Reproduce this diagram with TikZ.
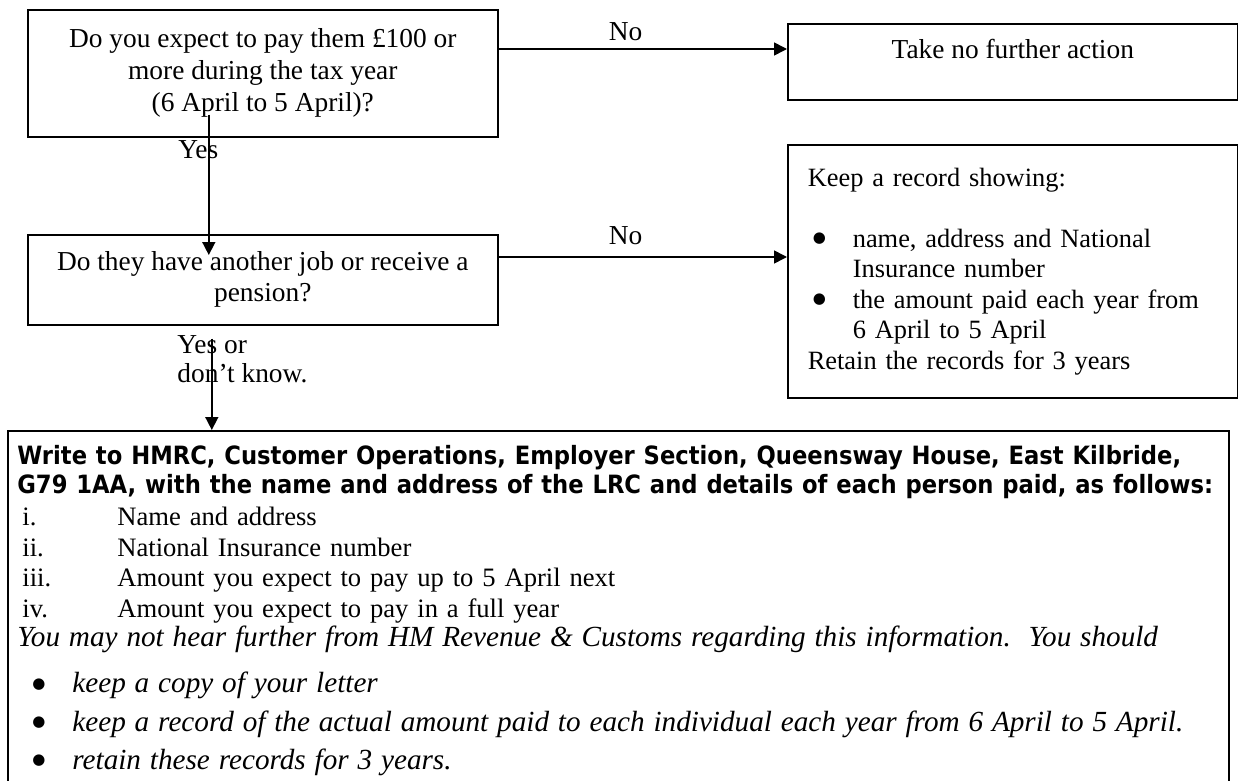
\documentclass[tikz,border=0pt]{standalone}
\usepackage{fontspec}
\setmainfont{Liberation Serif}
\newfontfamily\hdfont{DejaVuSansCondensed-Bold.ttf}
\newfontfamily\symfont{DejaVu Sans}
\usetikzlibrary{positioning,calc,arrows.meta}
\newcommand{\hd}{\hdfont\fontsize{12.6}{15.2}\selectfont}
\newcommand{\bigdot}{\raisebox{2.4pt}{\symfont\fontsize{7.5}{7.5}\selectfont ●}}
\newcommand{\bul}[1]{\hspace*{2.5pt}\makebox[20pt][l]{\bigdot}#1}
\newcommand{\ibul}[1]{\hspace*{7.5pt}\makebox[20pt][l]{\bigdot}{\fontsize{14.6}{15.2}\selectfont\itshape #1}}
\newcommand{\num}[1]{\hspace*{2.5pt}\makebox[47.5pt][l]{#1}}
\tikzstyle{block} = [draw, rectangle, line width=0.8pt, anchor=north west, inner sep=0pt]
\tikzstyle{lbl} = [inner sep=0pt]
\tikzstyle{conn} = [-{Triangle[length=6.5pt,width=6.5pt]}, line width=0.8pt]
\begin{document}
\begin{tikzpicture}[x=0.5pt, y=-0.5pt, font=\fontsize{13.7}{15.5}\selectfont]
	\useasboundingbox (0,0) rectangle (1238,781);
	% questions
	\node (q1) [block, minimum width=235pt, minimum height=63.5pt, align=center, font=\fontsize{13.7}{16}\selectfont] at (27,9)
		{Do you expect to pay them £100 or\\ more during the tax year\\ (6 April to 5 April)?};
	\node (q2) [block, minimum width=235pt, minimum height=45pt, align=center] at (27,234)
		{Do they have another job or receive a\\ pension?};
	% answers
	\node (take) [block, minimum width=225pt, text height=17.5pt, text depth=20.5pt, align=center] at (787,23)
		{Take no further action};
	\node (keep) [block, minimum width=225pt, minimum height=126.5pt, text width=205pt, align=left, font=\fontsize{13.2}{15.2}\selectfont] at (787,144)
		{Keep a record showing:\\[15.5pt]
		\bul{name, address and National}\\
		\hspace*{22.5pt}Insurance number\\
		\bul{the amount paid each year from}\\
		\hspace*{22.5pt}6 April to 5 April\\
		Retain the records for 3 years};
	\node (letter) [block, minimum width=610.5pt, minimum height=200pt] at (7,430) {};
	\node (lettertxt) [lbl, anchor=north west, text width=620pt, align=left, font=\fontsize{13.3}{15.2}\selectfont] at (17,445)
		{{\hd Write to HMRC, Customer Operations, Employer Section, Queensway House, East Kilbride,}\\[-0.7pt]
		{\hd G79 1AA, with the name and address of the LRC and details of each person paid, as follows:}\\[1pt]
		\num{i.}Name and address\\
		\num{ii.}National Insurance number\\
		\num{iii.}Amount you expect to pay up to 5 April next\\
		\num{iv.}Amount you expect to pay in a full year\\[-0.5pt]
		{\fontsize{14.6}{15.2}\selectfont\itshape You may not hear further from HM Revenue \& Customs regarding this information.\ \ You should}\\[8pt]
		\ibul{keep a copy of your letter}\\[4pt]
		\ibul{keep a record of the actual amount paid to each individual each year from 6 April to 5 April.}\\[4pt]
		\ibul{retain these records for 3 years.}};
	% labels
	\node (yes1) [lbl, anchor=north west] at ([xshift=75.5pt,yshift=-1.5pt]q1.south west) {Yes};
	\node (yes2) [lbl, anchor=north west, align=left, font=\fontsize{13.7}{14.5}\selectfont] at ([xshift=75pt,yshift=-5pt]q2.south west)
		{Yes or\\ don’t know.};
	% connectors
	\coordinate (c1) at ([yshift=-20pt]q1.north east);
	\coordinate (c2) at ([yshift=-11.5pt]q2.north east);
	\coordinate (c3) at ([xshift=-25.5pt,yshift=-6.5pt]q2.south);
	\draw [conn] (c1) -- node (no1) [lbl, above=3.5pt, pos=0.44] {No} (c1 -| take.west);
	\draw [conn] (c2) -- node (no2) [lbl, above=5.5pt, pos=0.44] {No} (c2 -| keep.west);
	\draw [conn] ([xshift=-27pt,yshift=11.5pt]q1.south) -- ([xshift=-27pt,yshift=-10.5pt]q2.north);
	\draw [conn] (c3) -- (c3 |- letter.north);
\end{tikzpicture}
\end{document}
